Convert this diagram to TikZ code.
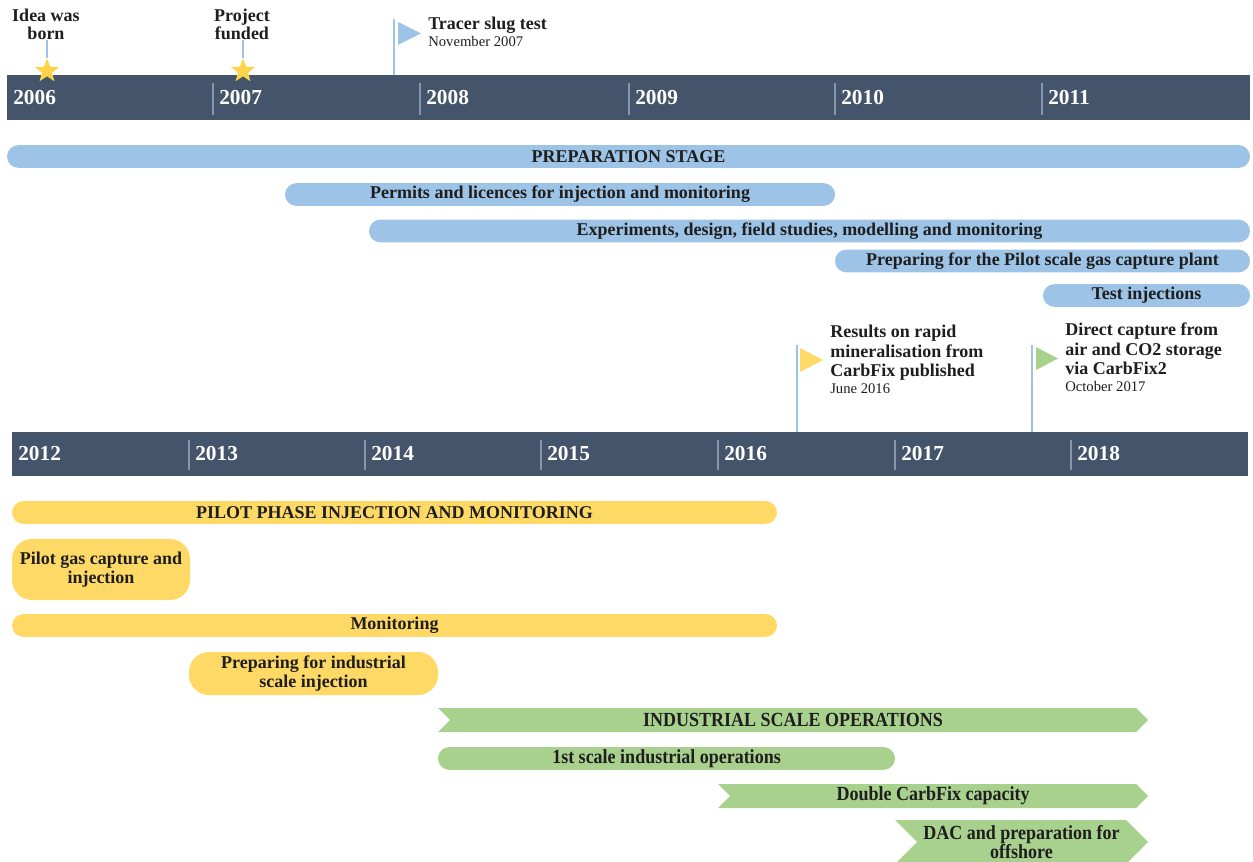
\documentclass[tikz,border=0pt]{standalone}
\usepackage{fontspec}
\setmainfont{Liberation Serif}
\newfontfamily\narrowserif[FakeStretch=0.9]{Liberation Serif}
\usetikzlibrary{shapes.geometric,shapes.symbols}

\definecolor{slate}{HTML}{44546A}
\definecolor{slateline}{HTML}{8497B0}
\definecolor{prepblue}{HTML}{9DC3E6}
\definecolor{pilotyellow}{HTML}{FFD966}
\definecolor{opsgreen}{HTML}{A9D18E}
\definecolor{stargold}{HTML}{FFD347}
\definecolor{ink}{HTML}{1E1E1E}

\newcommand\flagdate{\fontsize{11}{12}\selectfont\mdseries}

\tikzset{
  band/.style={fill=slate, draw=none},
  yearsep/.style={draw=slateline, line width=0.8pt},
  year/.style={anchor=west, text=white, inner sep=0pt,
    font=\fontsize{16}{18}\selectfont\bfseries},
  bar/.style={rounded corners=8.5pt, minimum height=17pt, inner sep=0pt,
    text=ink, align=center, font=\fontsize{13.5}{14.5}\selectfont\bfseries},
  bluebar/.style={bar, fill=prepblue},
  yellowbar/.style={bar, fill=pilotyellow},
  greenbar/.style={bar, fill=opsgreen,
    font=\narrowserif\fontsize{15}{15}\selectfont\bfseries},
  chevron/.style={signal, signal from=west, signal to=east,
    signal pointer angle=90, fill=opsgreen, inner sep=0pt, text=ink,
    align=center, font=\narrowserif\fontsize{15}{15}\selectfont\bfseries},
  pole/.style={draw=prepblue, line width=1.2pt},
  milestar/.style={star, star points=5, star point ratio=2.4, fill=stargold,
    minimum size=19pt, inner sep=0pt},
  mile/.style={text=ink, align=center, inner sep=0pt,
    font=\fontsize{13.5}{13.5}\selectfont\bfseries},
  flagtext/.style={anchor=north west, align=left, text=ink, inner sep=0pt,
    font=\fontsize{13.5}{14.6}\selectfont\bfseries},
}

\begin{document}
\begin{tikzpicture}[x=0.75pt, y=-0.75pt]
  \useasboundingbox (0,0) rectangle (1253,862);

  % 2006 - 2011
  \fill[band] (7,75) rectangle (1250,120);
  \foreach \yr/\xx in {2006/7,2007/213,2008/420,2009/629,2010/835,2011/1042}{
    \ifnum\yr>2006 \draw[yearsep] (\xx,83) -- (\xx,115); \fi
    \node[year] (y\yr) at (\xx+6,98) {\yr};
  }

  \node[mile] (idea) at (46,24) {Idea was\\born};
  \node[milestar] (ideastar) at (47,71) {};
  \draw[pole] (ideastar.north) -- (ideastar.north |- idea.south);
  \node[mile] (funded) at (242,24) {Project\\funded};
  \node[milestar] (fundstar) at (243,71) {};
  \draw[pole] (fundstar.north) -- (fundstar.north |- funded.south);

  \coordinate (tracerfoot) at (394,75);
  \coordinate (tracertop) at (394,19);
  \draw[pole] (tracerfoot) -- (tracertop);
  \fill[prepblue] (398,22) -- (421,33.5) -- (398,45) -- cycle;
  \node[flagtext] (tracer) at (428,17) {Tracer slug test\\[-2pt]
    {\flagdate November 2007}};

  \node[bluebar, minimum width=932.25pt] (prep) at (628.5,156.5) {PREPARATION STAGE};
  \node[bluebar, minimum width=412.5pt] (permits) at (560,194.5)
    {Permits and licences for injection and monitoring};
  \node[bluebar, minimum width=660.75pt] (experiments) at (809.5,231)
    {Experiments, design, field studies, modelling and monitoring};
  \node[bluebar, minimum width=311.25pt] (plantprep) at (1042.5,261)
    {Preparing for the Pilot scale gas capture plant};
  \node[bluebar, minimum width=155.25pt] (testinj) at (1146.5,295.5) {Test injections};

  % 2012 - 2018
  \fill[band] (12,432) rectangle (1248,476);
  \foreach \yr/\xx in {2012/12,2013/189,2014/365,2015/541,2016/718,2017/895,2018/1071}{
    \ifnum\yr>2012 \draw[yearsep] (\xx,440) -- (\xx,470); \fi
    \node[year] (y\yr) at (\xx+6,454) {\yr};
  }

  \coordinate (resultsfoot) at (797,432);
  \coordinate (resultstop) at (797,345);
  \draw[pole] (resultsfoot) -- (resultstop);
  \fill[pilotyellow] (800,348) -- (823,360) -- (800,372) -- cycle;
  \node[flagtext] (results) at (830,325) {Results on rapid\\mineralisation from\\
    CarbFix published\\[-2pt]{\flagdate June 2016}};

  \coordinate (dacfoot) at (1032,432);
  \coordinate (dactop) at (1032,345);
  \draw[pole] (dacfoot) -- (dactop);
  \fill[opsgreen] (1036,347) -- (1058,358.5) -- (1036,370) -- cycle;
  \node[flagtext] (direct) at (1065,323) {Direct capture from\\air and CO2 storage\\
    via CarbFix2\\[-2pt]{\flagdate October 2017}};

  \node[yellowbar, minimum width=573.75pt] (pilot) at (394.5,512.5)
    {PILOT PHASE INJECTION AND MONITORING};
  \node[yellowbar, minimum width=133.5pt, minimum height=45.75pt, rounded corners=15pt]
    (gascap) at (101,569.5) {Pilot gas capture and\\injection};
  \node[yellowbar, minimum width=573.75pt] (monitor) at (394.5,625.5) {Monitoring};
  \node[yellowbar, minimum width=186.75pt, minimum height=32.25pt, rounded corners=15pt]
    (indprep) at (313.5,673.5) {Preparing for industrial\\scale injection};

  \node[chevron, minimum width=532.5pt, minimum height=18pt] (industrial) at (793,720)
    {INDUSTRIAL SCALE OPERATIONS};
  \node[greenbar, minimum width=342.75pt] (firstscale) at (666.5,758.5)
    {1st scale industrial operations};
  \node[chevron, minimum width=322.5pt, minimum height=18pt] (double) at (933,796)
    {Double CarbFix capacity};
  \node[chevron, minimum width=189.75pt, minimum height=33pt,
    font=\narrowserif\fontsize{15}{14}\selectfont\bfseries] (dac) at (1021.5,842)
    {DAC and preparation for\\offshore};
\end{tikzpicture}
\end{document}
